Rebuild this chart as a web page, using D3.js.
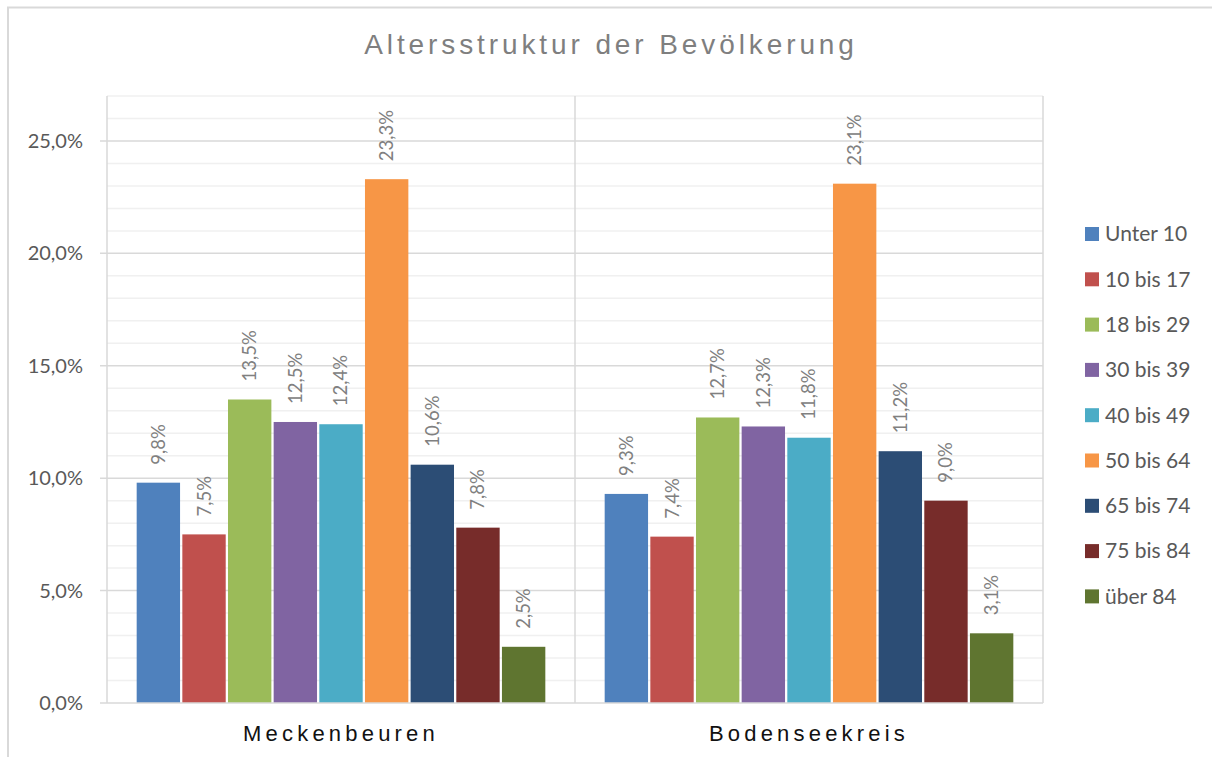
<!DOCTYPE html>
<html>
<head>
<meta charset="utf-8">
<script src="https://cdn.jsdelivr.net/npm/d3@7.9.0/dist/d3.min.js"></script>
<style>
  body { margin: 0; background: #fff; }
  svg text { font-family: Lato, "Open Sans", sans-serif; }
</style>
</head>
<body>
<svg id="chart" width="1212" height="757"></svg>
<script>
// data
const regions = ['Meckenbeuren', 'Bodenseekreis'];
const ageGroups = ['Unter 10', '10 bis 17', '18 bis 29', '30 bis 39', '40 bis 49', '50 bis 64', '65 bis 74', '75 bis 84', 'über 84'];
const meckenbeuren = [9.8, 7.5, 13.5, 12.5, 12.4, 23.3, 10.6, 7.8, 2.5];
const bodenseekreis = [9.3, 7.4, 12.7, 12.3, 11.8, 23.1, 11.2, 9.0, 3.1];
const yTicks = [0, 5, 10, 15, 20, 25];
const colors = ['#4F81BD', '#C0504D', '#9BBB59', '#8064A2', '#4BACC6', '#F79646', '#2C4D75', '#772C2A', '#5F7530'];

const seriesByRegion = [meckenbeuren, bodenseekreis];

const svg = d3.select('#chart');

// outer frame (Excel chart area)
svg.append('path')
  .attr('d', 'M8,757 V7.5 H1212')
  .attr('fill', 'none')
  .attr('stroke', '#d9d9d9')
  .attr('stroke-width', 2);

const margin = { left: 107, top: 96, right: 1043, bottom: 703 };

let x0 = d3.scaleBand().domain(regions).range([margin.left, margin.right]).paddingInner(0).paddingOuter(0);
let x1 = d3.scaleBand().domain(ageGroups).range([0, x0.bandwidth()]).paddingInner(0.05).paddingOuter(0.65);
let y = d3.scaleLinear().domain([0, 27]).range([margin.bottom, margin.top]);

const pct = d => d3.format('.1f')(d).replace('.', ',') + '%';

// minor gridlines
svg.append('g')
  .selectAll('line')
  .data(d3.range(1, 28).filter(d => d % 5 !== 0))
  .join('line')
  .attr('x1', margin.left).attr('x2', margin.right)
  .attr('y1', d => y(d)).attr('y2', d => y(d))
  .attr('stroke', '#f0f0f0')
  .attr('stroke-width', 1.5);

// major gridlines
svg.append('g')
  .selectAll('line')
  .data(yTicks.filter(d => d > 0))
  .join('line')
  .attr('x1', margin.left - 7).attr('x2', margin.right)
  .attr('y1', d => y(d)).attr('y2', d => y(d))
  .attr('stroke', '#d9d9d9')
  .attr('stroke-width', 1.5);

// category separators and vertical axis
svg.append('g')
  .selectAll('line')
  .data([margin.left, x0('Bodenseekreis'), margin.right])
  .join('line')
  .attr('x1', d => d).attr('x2', d => d)
  .attr('y1', margin.top).attr('y2', margin.bottom)
  .attr('stroke', '#d9d9d9')
  .attr('stroke-width', 1.5);

// y axis labels
svg.append('g')
  .selectAll('text')
  .data(yTicks)
  .join('text')
  .attr('x', 83)
  .attr('y', d => y(d))
  .attr('dy', '0.35em')
  .attr('text-anchor', 'end')
  .attr('fill', '#595959')
  .attr('font-size', 20)
  .text(pct);

// bars
regions.forEach((region, ri) => {
  const g = svg.append('g').attr('transform', `translate(${x0(region)},0)`);
  const vals = seriesByRegion[ri];
  g.selectAll('rect')
    .data(vals)
    .join('rect')
    .attr('x', (d, i) => x1(ageGroups[i]))
    .attr('y', d => y(d))
    .attr('width', x1.bandwidth())
    .attr('height', d => y(0) - y(d))
    .attr('fill', (d, i) => colors[i]);

  g.selectAll('text')
    .data(vals)
    .join('text')
    .attr('transform', (d, i) => `translate(${x1(ageGroups[i]) + x1.bandwidth() / 2},${y(d) - 18}) rotate(-90)`)
    .attr('dy', '0.35em')
    .attr('fill', '#808080')
    .attr('font-size', 18.5)
    .text(pct);
});

// bottom axis line
svg.append('line')
  .attr('x1', margin.left - 7).attr('x2', margin.right)
  .attr('y1', y(0)).attr('y2', y(0))
  .attr('stroke', '#d9d9d9')
  .attr('stroke-width', 1.5);

// category labels
svg.append('g')
  .selectAll('text')
  .data(regions)
  .join('text')
  .attr('x', d => x0(d) + x0.bandwidth() / 2)
  .attr('y', 741)
  .attr('text-anchor', 'middle')
  .attr('font-size', 22)
  .attr('letter-spacing', 4.2)
  .attr('fill', '#111')
  .style('font-family', '"Liberation Sans", Arial, sans-serif')
  .text(d => d);

// title
svg.append('text')
  .attr('x', 611)
  .attr('y', 54)
  .attr('text-anchor', 'middle')
  .attr('font-size', 28)
  .attr('letter-spacing', 3.9)
  .attr('fill', '#7f7f7f')
  .style('font-family', '"Liberation Sans", Arial, sans-serif')
  .text('Altersstruktur der Bevölkerung');

// legend
const legend = svg.append('g');
ageGroups.forEach((name, i) => {
  const ly = 234 + i * 45.3;
  legend.append('rect')
    .attr('x', 1085).attr('y', ly - 7)
    .attr('width', 14).attr('height', 14)
    .attr('fill', colors[i]);
  legend.append('text')
    .attr('x', 1105).attr('y', ly)
    .attr('dy', '0.35em')
    .attr('font-size', 21)
    .attr('fill', '#595959')
    .text(name);
});
</script>
</body>
</html>
